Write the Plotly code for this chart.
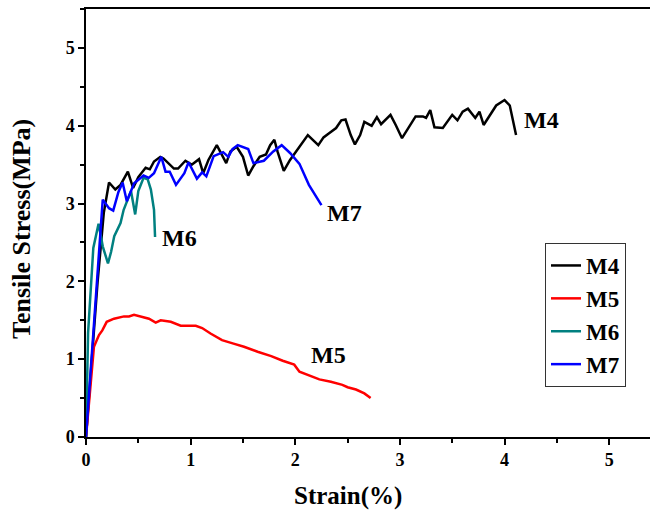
import plotly.graph_objects as go

# M4 (black)
m4_x = [0, 0.11, 0.17, 0.22, 0.28, 0.33, 0.40, 0.45, 0.50, 0.57, 0.61, 0.65, 0.71, 0.74, 0.84, 0.88,
        0.95, 1.01, 1.08, 1.12, 1.17, 1.25, 1.34, 1.38, 1.44, 1.50, 1.55, 1.60, 1.66, 1.72, 1.76,
        1.80, 1.83, 1.89, 1.95, 2.03, 2.12, 2.22, 2.27, 2.32, 2.39, 2.44, 2.48, 2.53, 2.57, 2.62,
        2.66, 2.73, 2.78, 2.82, 2.91, 2.96, 3.02, 3.15, 3.22, 3.25, 3.29, 3.33, 3.41, 3.50, 3.55,
        3.60, 3.65, 3.72, 3.76, 3.80, 3.92, 4.00, 4.05, 4.11]
m4_y = [0, 1.98, 2.88, 3.27, 3.18, 3.24, 3.41, 3.20, 3.34, 3.46, 3.44, 3.54, 3.60, 3.58, 3.45, 3.45,
        3.55, 3.50, 3.57, 3.39, 3.56, 3.75, 3.52, 3.67, 3.73, 3.60, 3.36, 3.48, 3.60, 3.63, 3.75,
        3.82, 3.67, 3.42, 3.56, 3.71, 3.88, 3.75, 3.85, 3.90, 3.97, 4.07, 4.08, 3.88, 3.76, 3.88,
        4.05, 4.00, 4.11, 4.02, 4.14, 4.01, 3.84, 4.12, 4.12, 4.10, 4.20, 3.98, 3.97, 4.14, 4.07,
        4.18, 4.22, 4.10, 4.18, 4.01, 4.26, 4.33, 4.26, 3.88]

# M5 (red)
m5_x = [0, 0.045, 0.076, 0.124, 0.156, 0.198, 0.268, 0.363, 0.411, 0.459, 0.507, 0.602, 0.666,
        0.714, 0.81, 0.905, 1.049, 1.11, 1.19, 1.30, 1.41, 1.51, 1.64, 1.77, 1.88, 1.99, 2.04,
        2.12, 2.23, 2.34, 2.45, 2.50, 2.58, 2.66, 2.72]
m5_y = [0, 0.73, 1.16, 1.31, 1.37, 1.48, 1.52, 1.55, 1.55, 1.57, 1.55, 1.52, 1.47,
        1.50, 1.48, 1.43, 1.43, 1.40, 1.33, 1.245, 1.20, 1.16, 1.096, 1.04, 0.98, 0.93, 0.84,
        0.80, 0.74, 0.71, 0.67, 0.64, 0.61, 0.56, 0.50]

# M6 (teal)
m6_x = [0, 0.02, 0.07, 0.12, 0.16, 0.21, 0.24, 0.27, 0.33, 0.36, 0.43, 0.47, 0.50, 0.55, 0.59,
        0.62, 0.65, 0.66]
m6_y = [0, 1.34, 2.43, 2.74, 2.45, 2.23, 2.38, 2.58, 2.75, 2.92, 3.16, 2.86, 3.16, 3.33, 3.31,
        3.18, 2.92, 2.57]

# M7 (blue)
m7_x = [0, 0.09, 0.16, 0.22, 0.26, 0.31, 0.35, 0.39, 0.46, 0.55, 0.60, 0.65, 0.72, 0.76, 0.80,
        0.86, 0.94, 0.98, 1.06, 1.11, 1.15, 1.22, 1.31, 1.36, 1.40, 1.45, 1.55, 1.60, 1.70, 1.79,
        1.87, 1.95, 2.04, 2.13, 2.25]
m7_y = [0, 1.76, 3.05, 2.94, 2.91, 3.15, 3.27, 3.03, 3.26, 3.36, 3.33, 3.39, 3.60, 3.41, 3.41,
        3.24, 3.39, 3.53, 3.32, 3.40, 3.35, 3.61, 3.66, 3.60, 3.70, 3.75, 3.70, 3.52, 3.55, 3.67,
        3.75, 3.65, 3.51, 3.24, 2.98]

names = ["M4", "M5", "M6", "M7"]
colors = ["#000000", "#FF0000", "#008080", "#0000FF"]
xs = [m4_x, m5_x, m6_x, m7_x]
ys = [m4_y, m5_y, m6_y, m7_y]

label_x = [4.17, 2.13, 0.707, 2.285]
label_y = [4.07, 1.05, 2.56, 2.88]

FONT = "Liberation Serif"

fig = go.Figure()
for n, c, x, y in zip(names, colors, xs, ys):
    fig.add_trace(go.Scatter(x=x, y=y, mode="lines", name=n,
                             line=dict(color=c, width=2.5)))

for n, lx, ly in zip(names, label_x, label_y):
    fig.add_annotation(x=lx, y=ly, text=n, showarrow=False, xanchor="left", yanchor="middle",
                       font=dict(family=FONT, size=24, color="black", weight="bold"))

# axis titles as annotations (plot area: x 86..650, y 9..437)
fig.add_annotation(x=(348 - 86) / 564, y=-(496 - 437) / 428, xref="paper", yref="paper",
                   text="Strain(%)", showarrow=False, xanchor="center", yanchor="middle",
                   font=dict(family=FONT, size=25, color="black", weight="bold"))
fig.add_annotation(x=-(86 - 22) / 564, y=(437 - 229) / 428, xref="paper", yref="paper",
                   text="Tensile Stress(MPa)", showarrow=False, textangle=-90,
                   xanchor="center", yanchor="middle",
                   font=dict(family=FONT, size=26, color="black", weight="bold"))

axis_common = dict(
    showgrid=False, zeroline=False, showline=True, linecolor="black", linewidth=1.5,
    ticks="outside", ticklen=6, tickwidth=1.5, tickcolor="black",
    tickfont=dict(family=FONT, size=18, color="black", weight="bold"),
    minor=dict(ticks="outside", ticklen=4, tickwidth=1.5, tickcolor="black", dtick=0.5),
    dtick=1, tick0=0,
)

fig.update_xaxes(range=[0, 5.39], mirror=True, **axis_common)
fig.update_yaxes(range=[0, 5.5], mirror=False, **axis_common)

fig.update_layout(
    width=650, height=510,
    margin=dict(l=86, r=0, t=9, b=73),
    paper_bgcolor="white", plot_bgcolor="white",
    showlegend=True,
    legend=dict(x=(545 - 86) / 564, y=(437 - 243) / 428, xanchor="left", yanchor="top",
                bgcolor="white", bordercolor="#333333", borderwidth=1,
                font=dict(family=FONT, size=23, color="black", weight="bold"),
                tracegroupgap=0, itemwidth=30),
)

fig.write_html("out.html", config={"displayModeBar": False},
               post_script="document.body.style.margin='0';")
